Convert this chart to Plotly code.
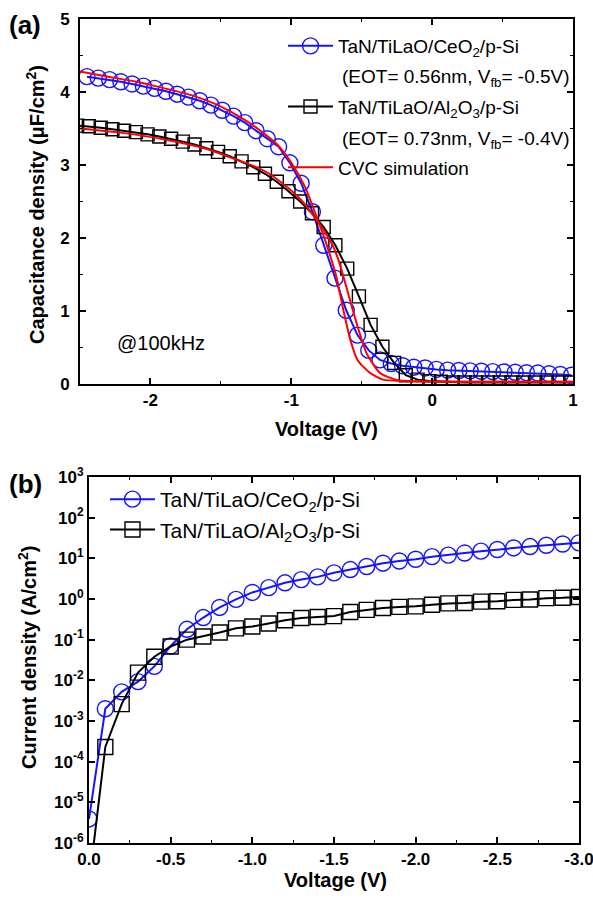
import plotly.graph_objects as go

# ---------------- Panel (a): C-V ----------------
v_ce = [-2.45, -2.37, -2.29, -2.21, -2.13, -2.05, -1.97, -1.89, -1.81, -1.73,
        -1.65, -1.57, -1.49, -1.41, -1.33, -1.25, -1.17, -1.09, -1.01, -0.93,
        -0.85, -0.77, -0.69, -0.61, -0.53, -0.45, -0.37, -0.29, -0.21, -0.13,
        -0.05, 0.03, 0.11, 0.19, 0.27, 0.35, 0.43, 0.51, 0.59, 0.67,
        0.75, 0.83, 0.91, 0.99]
c_ce = [4.21, 4.19, 4.17, 4.14, 4.11, 4.08, 4.05, 4.01, 3.97, 3.93,
        3.88, 3.82, 3.75, 3.67, 3.58, 3.47, 3.36, 3.25, 3.03, 2.75,
        2.36, 1.90, 1.45, 1.01, 0.67, 0.46, 0.33, 0.28, 0.25, 0.23,
        0.22, 0.20, 0.19, 0.185, 0.18, 0.175, 0.17, 0.165, 0.16, 0.155,
        0.15, 0.14, 0.13, 0.12]

v_al = [-2.52, -2.437, -2.353, -2.27, -2.187, -2.103, -2.02, -1.937, -1.853, -1.77,
        -1.687, -1.603, -1.52, -1.437, -1.353, -1.27, -1.187, -1.103, -1.02, -0.937,
        -0.853, -0.77, -0.687, -0.603, -0.52, -0.437, -0.353, -0.27, -0.187, -0.103,
        -0.02, 0.063, 0.147, 0.23, 0.313, 0.397, 0.48, 0.563, 0.647, 0.73,
        0.813, 0.897, 0.98]
c_al = [3.54, 3.53, 3.51, 3.49, 3.47, 3.45, 3.42, 3.39, 3.36, 3.32,
        3.28, 3.23, 3.18, 3.12, 3.05, 2.97, 2.88, 2.77, 2.64, 2.50,
        2.34, 2.15, 1.90, 1.58, 1.20, 0.81, 0.51, 0.29, 0.12, 0.06,
        0.04, 0.03, 0.02, 0.02, 0.02, 0.02, 0.02, 0.02, 0.02, 0.02,
        0.02, 0.02, 0.02]

v_sim_ce = [-2.5, -2.3, -2.1, -1.9, -1.7, -1.5, -1.3, -1.2, -1.1, -1.0,
            -0.9, -0.83, -0.76, -0.68, -0.63, -0.58, -0.53, -0.44, -0.35, -0.2,
            0.0, 0.5, 1.0]
c_sim_ce = [4.28, 4.21, 4.14, 4.05, 3.95, 3.80, 3.58, 3.44, 3.28, 3.03,
            2.69, 2.34, 1.97, 1.47, 1.01, 0.60, 0.33, 0.15, 0.06, 0.04,
            0.035, 0.03, 0.03]

v_sim_al = [-2.5, -2.2, -1.9, -1.6, -1.4, -1.26, -1.14, -1.02, -0.93, -0.855,
            -0.785, -0.714, -0.667, -0.596, -0.536, -0.465, -0.37, -0.25, -0.1, 0.3,
            1.0]
c_sim_al = [3.50, 3.44, 3.35, 3.22, 3.08, 2.98, 2.86, 2.68, 2.52, 2.34,
            2.15, 1.93, 1.71, 1.24, 0.83, 0.42, 0.15, 0.055, 0.035, 0.03,
            0.03]

# ---------------- Panel (b): J-V ----------------
v_j = [0.0, -0.1, -0.2, -0.3, -0.4, -0.5, -0.6, -0.7, -0.8, -0.9,
       -1.0, -1.1, -1.2, -1.3, -1.4, -1.5, -1.6, -1.7, -1.8, -1.9,
       -2.0, -2.1, -2.2, -2.3, -2.4, -2.5, -2.6, -2.7, -2.8, -2.9, -3.0]
j_ce = [3.9e-6, 2.0e-3, 5.2e-3, 9.3e-3, 0.022, 0.07, 0.18, 0.35, 0.62, 0.98,
        1.45, 1.9, 2.5, 3.0, 3.5, 4.4, 5.3, 6.3, 7.6, 8.6,
        9.5, 11, 12, 13.5, 15, 16.5, 18, 19.5, 21, 22.5, 24]
j_al = [1e-7, 2.3e-4, 2.6e-3, 0.0155, 0.038, 0.068, 0.10, 0.12, 0.15, 0.19,
        0.21, 0.25, 0.30, 0.34, 0.36, 0.38, 0.48, 0.54, 0.60, 0.64,
        0.66, 0.72, 0.78, 0.80, 0.86, 0.88, 0.95, 0.97, 1.05, 1.07, 1.12]

x_ticks_a = [-2, -1, 0, 1]
x_ticktext_a = ["-2", "-1", "0", "1"]
x_ticks_b = [0, -0.5, -1.0, -1.5, -2.0, -2.5, -3.0]
x_ticktext_b = ["0.0", "-0.5", "-1.0", "-1.5", "-2.0", "-2.5", "-3.0"]
y_ticks_b = [1e-6, 1e-5, 1e-4, 1e-3, 1e-2, 1e-1, 1e0, 1e1, 1e2, 1e3]
y_ticktext_b = ["10<sup>-6</sup>", "10<sup>-5</sup>", "10<sup>-4</sup>", "10<sup>-3</sup>",
                "10<sup>-2</sup>", "10<sup>-1</sup>", "10<sup>0</sup>", "10<sup>1</sup>",
                "10<sup>2</sup>", "10<sup>3</sup>"]

BLUE = "#1414ff"
RED = "#ff0000"
FONT = "Liberation Sans, Arial, sans-serif"

fig = go.Figure()

# Panel (a)
fig.add_trace(go.Scatter(
    x=v_ce, y=c_ce, mode="lines+markers",
    name="TaN/TiLaO/CeO<sub>2</sub>/p-Si", legendgroup="g1",
    line=dict(color=BLUE, width=2),
    marker=dict(symbol="circle-open", size=16, color=BLUE, line=dict(width=1.4)),
    xaxis="x", yaxis="y", legend="legend"))
fig.add_trace(go.Scatter(
    x=v_al, y=c_al, mode="lines+markers",
    name="TaN/TiLaO/Al<sub>2</sub>O<sub>3</sub>/p-Si", legendgroup="g2",
    line=dict(color="black", width=2),
    marker=dict(symbol="square-open", size=13, color="black", line=dict(width=1.4)),
    xaxis="x", yaxis="y", legend="legend"))
fig.add_trace(go.Scatter(
    x=v_sim_ce, y=c_sim_ce, mode="lines", name="CVC simulation", legendgroup="g3",
    line=dict(color=RED, width=2, shape="spline", smoothing=0.6),
    xaxis="x", yaxis="y", legend="legend"))
fig.add_trace(go.Scatter(
    x=v_sim_al, y=c_sim_al, mode="lines", name="CVC simulation", showlegend=False,
    legendgroup="g3",
    line=dict(color=RED, width=2, shape="spline", smoothing=0.6),
    xaxis="x", yaxis="y"))

# Panel (b)
fig.add_trace(go.Scatter(
    x=v_j, y=j_ce, mode="lines+markers",
    name="TaN/TiLaO/CeO<sub>2</sub>/p-Si",
    line=dict(color=BLUE, width=2),
    marker=dict(symbol="circle-open", size=16, color=BLUE, line=dict(width=1.4)),
    xaxis="x2", yaxis="y2", legend="legend2"))
fig.add_trace(go.Scatter(
    x=v_j, y=j_al, mode="lines+markers",
    name="TaN/TiLaO/Al<sub>2</sub>O<sub>3</sub>/p-Si",
    line=dict(color="black", width=2),
    marker=dict(symbol="square-open", size=15, color="black", line=dict(width=1.4)),
    xaxis="x2", yaxis="y2", legend="legend2"))

W, H = 593, 903

def px_x(p):
    return p / W

def px_y(p):
    return 1 - p / H

tickfont = dict(family=FONT, size=17, color="black", weight="bold")
axis_common = dict(showline=True, linecolor="black", linewidth=2, mirror="ticks",
                   ticks="inside", ticklen=6, tickwidth=1.5, tickcolor="black",
                   showgrid=False, zeroline=False, tickfont=tickfont,
                   automargin=False, ticklabeloverflow="allow")

fig.update_layout(
    template="none",
    width=W, height=H, autosize=False,
    margin=dict(l=0, r=0, t=0, b=0, pad=0),
    paper_bgcolor="white", plot_bgcolor="white",
    font=dict(family=FONT, color="black"),
    xaxis=dict(domain=[px_x(80), px_x(573)], anchor="y", range=[-2.5, 1],
               tickmode="array", tickvals=x_ticks_a, ticktext=x_ticktext_a,
               minor=dict(tick0=0, dtick=0.5, ticks="inside", ticklen=3,
                          tickcolor="black", tickwidth=1),
               **axis_common),
    yaxis=dict(domain=[px_y(384), px_y(19)], anchor="x", range=[0, 5],
               dtick=1, tick0=0, ticklabelstandoff=5,
               minor=dict(tick0=0, dtick=0.5, ticks="inside", ticklen=3,
                          tickcolor="black", tickwidth=1),
               **axis_common),
    xaxis2=dict(domain=[px_x(89), px_x(579)], anchor="y2", range=[0, -3],
                tickmode="array", tickvals=x_ticks_b, ticktext=x_ticktext_b,
                minor=dict(tick0=0, dtick=0.25, ticks="inside", ticklen=3,
                           tickcolor="black", tickwidth=1),
                **axis_common),
    yaxis2=dict(domain=[px_y(843), px_y(477)], anchor="x2", type="log",
                range=[-6, 3], tickmode="array", tickvals=y_ticks_b,
                ticktext=y_ticktext_b,
                **axis_common),
    legend=dict(x=px_x(283), y=px_y(27), xanchor="left", yanchor="top",
                bgcolor="rgba(0,0,0,0)", borderwidth=0, valign="top",
                font=dict(family=FONT, size=19, color="black"),
                itemwidth=45, tracegroupgap=33, traceorder="grouped"),
    legend2=dict(x=px_x(105), y=px_y(479), xanchor="left", yanchor="top",
                 bgcolor="rgba(0,0,0,0)", borderwidth=0,
                 font=dict(family=FONT, size=21, color="black"),
                 itemwidth=45),
    showlegend=True,
)

def ann(text, x, y, font, angle=0):
    fig.add_annotation(text=text, x=px_x(x), y=px_y(y), xref="paper", yref="paper",
                       xanchor="center", yanchor="middle", textangle=angle,
                       showarrow=False, font=font)

ann_font_b = dict(family=FONT, size=20, color="black", weight="bold")
panel_font = dict(family=FONT, size=26, color="black", weight="bold")
legend_font = dict(family=FONT, size=19, color="black")

ann("(a)", 25, 25, panel_font)
ann("(b)", 25, 484, panel_font)
ann("Capacitance density (\u03bcF/cm<sup>2</sup>)", 35, 205, ann_font_b, -90)
ann("Voltage (V)", 326, 429, ann_font_b)
ann("Current density (A/cm<sup>2</sup>)", 27, 658, ann_font_b, -90)
ann("Voltage (V)", 335, 880, ann_font_b)
ann("@100kHz", 161, 343, dict(family=FONT, size=20, color="black"))

# second lines of the legend entries
fig.add_annotation(text="(EOT= 0.56nm, V<sub>fb</sub>= -0.5V)", x=px_x(340), y=px_y(78),
                   xref="paper", yref="paper", xanchor="left", yanchor="middle",
                   showarrow=False, font=legend_font)
fig.add_annotation(text="(EOT= 0.73nm, V<sub>fb</sub>= -0.4V)", x=px_x(340), y=px_y(140),
                   xref="paper", yref="paper", xanchor="left", yanchor="middle",
                   showarrow=False, font=legend_font)

fig.write_html("out.html")
